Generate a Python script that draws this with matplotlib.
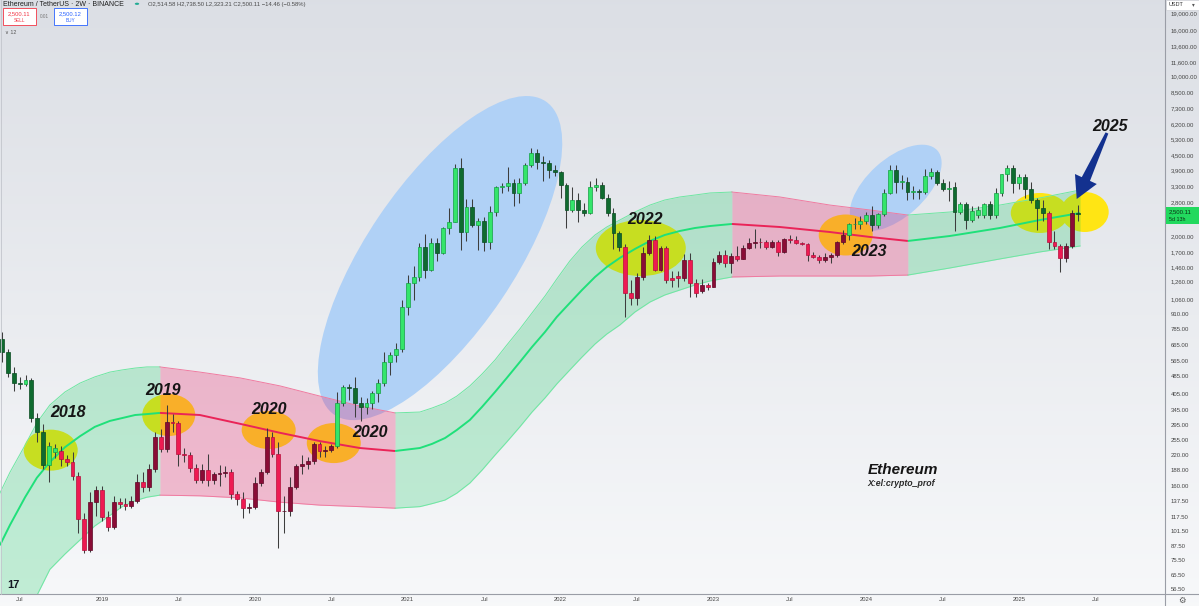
import numpy as np
import pandas as pd
import matplotlib
matplotlib.use("Agg")
import matplotlib.pyplot as plt
from matplotlib.patches import Ellipse, Rectangle, Polygon, Circle
from matplotlib.transforms import IdentityTransform
from matplotlib.lines import Line2D
from matplotlib.ticker import NullLocator

plt.rcParams["font.family"] = ["Liberation Sans", "DejaVu Sans"]

W, H = 1199, 606

# ETH/USDT 2W bars
first_bar = "2018-05-07"

opens = [
    710, 620, 500, 455, 450, 468, 318, 275, 197, 226,
    228, 210, 205, 178, 115, 84, 136, 154, 117, 106,
    136, 133, 131, 137, 167, 158, 190, 262, 232, 305,
    302, 222, 219, 193, 170, 188, 170, 180, 182, 185,
    148, 140, 128, 129, 165, 185, 262, 222, 124, 125,
    158, 195, 200, 206, 245, 228, 230, 240, 370, 435,
    432, 370, 355, 372, 410, 453, 560, 600, 640, 977,
    1244, 1320, 1790, 1418, 1866, 1680, 2168, 2302, 3986, 2080,
    2680, 2234, 2330, 1880, 2550, 3280, 3300, 3400, 3100, 3400,
    4096, 4620, 4230, 4160, 3900, 3800, 3350, 2600, 2880, 2600,
    2520, 3280, 3350, 2940, 2520, 2060, 1790, 1125, 1070, 1320,
    1680, 1920, 1420, 1770, 1310, 1340, 1310, 1570, 1250, 1150,
    1215, 1200, 1540, 1650, 1530, 1630, 1590, 1770, 1870, 1880,
    1875, 1790, 1880, 1700, 1940, 1920, 1860, 1840, 1650, 1620,
    1570, 1610, 1650, 1880, 2030, 2250, 2260, 2330, 2470, 2230,
    2500, 3090, 3900, 3450, 3460, 3130, 3140, 3110, 3650, 3800,
    3420, 3230, 3280, 2550, 2760, 2350, 2460, 2480, 2760, 2470,
    3090, 3740, 3990, 3410, 3640, 3230, 2880, 2650, 2530, 1880,
    1810, 1600, 1810, 2514.58,
]
highs = [
    760, 640, 530, 480, 490, 475, 335, 300, 250, 245,
    240, 218, 225, 185, 122, 150, 160, 160, 125, 145,
    142, 142, 145, 180, 185, 200, 275, 285, 362, 330,
    310, 235, 225, 200, 200, 222, 185, 197, 195, 190,
    152, 150, 135, 175, 190, 288, 275, 250, 145, 175,
    200, 220, 215, 250, 250, 240, 245, 415, 445, 450,
    483, 395, 390, 420, 470, 620, 620, 680, 1050, 1350,
    1470, 1870, 2040, 1950, 1950, 2200, 2650, 4150, 4380, 2900,
    2900, 2400, 2420, 2700, 3330, 3400, 4000, 3550, 3600, 4200,
    4860, 4800, 4500, 4300, 4100, 3850, 3400, 3280, 3100, 2800,
    3480, 3580, 3450, 3050, 2650, 2100, 1850, 1280, 1380, 1790,
    2030, 2000, 1800, 1800, 1400, 1400, 1660, 1680, 1290, 1300,
    1240, 1600, 1720, 1740, 1680, 1800, 1830, 1950, 2140, 1950,
    1920, 1930, 1930, 1960, 2030, 1990, 1880, 1870, 1700, 1650,
    1680, 1690, 1900, 2130, 2280, 2400, 2450, 2550, 2720, 2530,
    3200, 4090, 4100, 3700, 3620, 3300, 3200, 3950, 3980, 3900,
    3560, 3500, 3450, 2820, 2820, 2700, 2700, 2780, 2850, 3250,
    3750, 4100, 4110, 3750, 3750, 3450, 2950, 2880, 2570, 2100,
    1850, 1870, 2600, 2738.50,
]
lows = [
    560, 480, 420, 425, 440, 305, 250, 190, 167, 212,
    195, 195, 170, 100, 81, 82, 118, 112, 102, 104,
    128, 126, 128, 135, 150, 152, 185, 225, 225, 275,
    195, 205, 185, 165, 165, 160, 163, 160, 175, 140,
    132, 116, 122, 127, 160, 180, 215, 86, 100, 118,
    155, 180, 190, 200, 215, 215, 225, 235, 360, 380,
    320, 310, 330, 350, 375, 440, 490, 560, 620, 900,
    1050, 1270, 1310, 1400, 1550, 1660, 2050, 2300, 1730, 1900,
    2200, 1740, 1720, 1750, 2450, 3080, 3150, 2700, 2800, 3350,
    4000, 3950, 3500, 3600, 3650, 2950, 2160, 2550, 2300, 2450,
    2500, 3150, 2900, 2450, 1750, 1720, 880, 1000, 1000, 1280,
    1650, 1400, 1400, 1250, 1190, 1190, 1270, 1080, 1080, 1120,
    1160, 1190, 1500, 1460, 1370, 1560, 1580, 1760, 1780, 1780,
    1760, 1780, 1630, 1690, 1860, 1840, 1820, 1550, 1600, 1530,
    1540, 1520, 1620, 1850, 1930, 2150, 2150, 2250, 2100, 2170,
    2450, 3050, 3100, 3200, 2870, 2900, 2900, 3050, 3550, 3350,
    3150, 2850, 2110, 2500, 2150, 2300, 2400, 2400, 2380, 2400,
    3000, 3500, 3100, 3200, 2930, 2800, 2120, 2330, 1760, 1760,
    1390, 1540, 1770, 2323.21,
]
closes = [
    620, 500, 455, 450, 468, 318, 275, 197, 240, 236,
    210, 205, 178, 115, 84, 136, 154, 117, 106, 136,
    133, 131, 137, 167, 158, 190, 262, 232, 305, 302,
    222, 219, 193, 170, 188, 170, 180, 182, 185, 148,
    140, 128, 129, 165, 185, 262, 222, 124, 125, 158,
    195, 200, 206, 245, 228, 230, 240, 370, 435, 432,
    370, 355, 372, 410, 453, 560, 600, 640, 977, 1244,
    1320, 1790, 1418, 1866, 1680, 2168, 2302, 3986, 2080, 2680,
    2234, 2330, 1880, 2550, 3280, 3300, 3400, 3100, 3400, 4096,
    4620, 4230, 4160, 3900, 3800, 3350, 2600, 2880, 2600, 2520,
    3280, 3350, 2940, 2520, 2060, 1790, 1125, 1070, 1320, 1680,
    1920, 1420, 1770, 1282, 1280, 1310, 1570, 1250, 1130, 1215,
    1200, 1540, 1650, 1530, 1630, 1590, 1770, 1870, 1880, 1875,
    1790, 1880, 1700, 1940, 1920, 1860, 1840, 1650, 1620, 1570,
    1610, 1650, 1880, 2030, 2250, 2260, 2330, 2470, 2230, 2500,
    3090, 3900, 3450, 3460, 3130, 3140, 3110, 3650, 3800, 3420,
    3230, 3250, 2550, 2760, 2350, 2570, 2600, 2760, 2470, 3090,
    3740, 3990, 3410, 3640, 3230, 2880, 2650, 2530, 1880, 1810,
    1600, 1810, 2514.58, 2500.11,
]
# trend colouring of the bars (g = green set, r = red set), as runs
regime_runs = [(10, "g"), (47, "r"), (49, "g"), (38, "r"), (34, "g"), (5, "r"), (1, "g")]

# regression band: basis / upper / lower
band_dates = ["2018-05-02", "2018-05-26", "2018-07-01", "2018-07-29", "2018-08-29",
              "2018-10-04", "2018-11-09", "2018-12-14", "2019-01-19", "2019-02-17",
              "2019-03-20", "2019-04-17", "2019-05-18", "2019-08-21", "2019-11-25",
              "2020-02-28", "2020-06-02", "2020-09-05", "2020-11-28", "2021-01-26",
              "2021-02-24", "2021-03-27", "2021-04-24", "2021-05-25", "2021-06-23",
              "2021-07-24", "2021-08-21", "2021-09-21", "2021-10-20", "2021-11-20",
              "2021-12-18", "2022-01-18", "2022-02-16", "2022-03-19", "2022-04-16",
              "2022-05-17", "2022-06-22", "2022-07-28", "2022-09-01", "2022-10-07",
              "2022-11-12", "2022-12-18", "2023-02-08", "2023-06-02", "2023-09-29",
              "2024-01-03", "2024-04-02", "2024-07-11", "2024-11-07", "2025-02-10",
              "2025-05-17"]
band_mid = [88, 108, 143, 174, 204, 237, 265, 291, 309, 318,
            328, 331, 335, 328, 300, 274, 252, 235, 228, 235,
            245, 260, 282, 312, 356, 414, 477, 560, 652, 759,
            883, 1017, 1159, 1322, 1462, 1602, 1754, 1902, 2020, 2104,
            2168, 2212, 2258, 2190, 2082, 1980, 1902, 2000, 2168, 2350,
            2523]
band_up = [149, 184, 242, 303, 363, 414, 453, 482, 506, 517,
           527, 533, 533, 506, 477, 440, 397, 359, 335, 338,
           352, 370, 397, 440, 496, 572, 665, 782, 919, 1091,
           1295, 1554, 1790, 2020, 2190, 2350, 2548, 2734, 2876, 2966,
           3025, 3089, 3118, 2966, 2734, 2600, 2471, 2548, 2734, 2936,
           3182]
band_lo = [27.6, 33.8, 43.5, 53, 69, 80.6, 93, 107, 119, 130,
           138, 143, 146, 145, 142, 136, 132, 130, 128, 130,
           134, 139, 149, 165, 188, 219, 250, 291, 338, 390,
           449, 517, 589, 672, 743, 814, 928, 1027, 1102, 1159,
           1219, 1270, 1322, 1335, 1335, 1335, 1348, 1448, 1586, 1702,
           1808]
zone_edges = ["2019-05-18", "2020-11-28", "2023-02-08", "2024-04-02"]

price_ticks = [19000, 16000, 13600, 11600, 10000, 8500, 7300, 6200, 5300, 4500, 3900,
               3300, 2800, 2000, 1700, 1460, 1260, 1060, 910, 785, 665, 565, 485, 405,
               345, 295, 255, 220, 188, 160, 137.5, 117.5, 101.5, 87.5, 75.5, 65.5, 56.5]
time_labels = ["2018-07-01", "2019-01-01", "2019-07-01", "2020-01-01", "2020-07-01",
               "2021-01-01", "2021-07-01", "2022-01-01", "2022-07-01", "2023-01-01",
               "2023-07-01", "2024-01-01", "2024-07-01", "2025-01-01", "2025-07-01"]

yellow = "#ffe514"
blue = "#b0d1f6"
# (date, price, width px, height px, angle, colour)
highlights = [
    ("2021-03-15", 1600, 378, 148, 56, blue),
    ("2024-03-04", 3250, 112, 58, 42, blue),
    ("2018-08-31", 230, 54, 41, 0, yellow),
    ("2019-06-08", 328, 53, 42, 0, yellow),
    ("2020-02-01", 282, 54, 38, 0, yellow),
    ("2020-07-05", 247, 54, 40, 0, yellow),
    ("2022-07-06", 1771, 90, 56, 0, yellow),
    ("2023-11-06", 2020, 54, 41, 0, yellow),
    ("2025-02-10", 2523, 58, 40, 0, yellow),
    ("2025-05-28", 2548, 48, 40, 0, yellow),
]
year_notes = [("2018", "2018-10-11", 335), ("2019", "2019-05-25", 418),
              ("2020", "2020-02-01", 348), ("2020", "2020-09-29", 274),
              ("2022", "2022-07-16", 2354), ("2023", "2023-12-31", 1702),
              ("2025", "2025-07-27", 6072)]
arrow_tail = ("2025-07-20", 5660)
arrow_tip = ("2025-05-09", 2905)

assert len(opens) == len(highs) == len(lows) == len(closes) == 184
assert len(band_dates) == len(band_mid) == len(band_up) == len(band_lo)

dates = pd.date_range(first_bar, periods=len(closes), freq="14D")
t0 = dates[0]


def bar_pos(d):
    return (pd.Timestamp(d) - t0).days / 14.0


def fx(x):
    return x / W


def fy(y):
    return 1 - y / H


fig = plt.figure(figsize=(W / 100, H / 100), dpi=100)

# background gradient
top = np.array([0.862, 0.874, 0.898])
bot = np.array([0.969, 0.973, 0.980])
t = np.linspace(0, 1, 256)[:, None]
grad = top + (bot - top) * t
bg = fig.add_axes([0, 0, 1, 1], zorder=-5)
bg.imshow(grad[:, None, :], aspect="auto", extent=(0, 1, 0, 1), origin="upper")
bg.axis("off")

ax = fig.add_axes([0, 12 / H, 1165 / W, 594 / H], facecolor="none")
ax.set_yscale("log")
ax.set_xlim(-0.34, 197.8)
ax.set_ylim(53.8, 21680)
ax.set_autoscale_on(False)

# highlight blobs (under the band so the band tints them)
for d, p, w, h, ang, col in highlights:
    cx, cy = ax.transData.transform((bar_pos(d), p))
    ax.add_patch(Ellipse((cx, cy), w, h, angle=ang, facecolor=col, edgecolor="none",
                         transform=IdentityTransform(), zorder=1))

# band
kx = np.array([bar_pos(d) for d in band_dates])
bm, bu, bl = np.array(band_mid), np.array(band_up), np.array(band_lo)
edges = [kx[0]] + [bar_pos(d) for d in zone_edges] + [kx[-1]]
for j in range(len(edges) - 1):
    m = (kx >= edges[j] - 1e-6) & (kx <= edges[j + 1] + 1e-6)
    if j % 2 == 0:
        fc, fa, ec, mc = "#00c853", 0.22, "#6ee6a2", "#1fe07a"
    else:
        fc, fa, ec, mc = "#e91e63", 0.27, "#f07aa0", "#ea2458"
    ax.fill_between(kx[m], bl[m], bu[m], color=fc, alpha=fa, lw=0, zorder=2)
    ax.plot(kx[m], bu[m], color=ec, lw=0.7, zorder=3)
    ax.plot(kx[m], bl[m], color=ec, lw=0.7, zorder=3)
    ax.plot(kx[m], bm[m], color=mc, lw=1.4, zorder=3, solid_capstyle="butt")

# candles
x = np.arange(len(closes))
o, hi, lo, c = map(np.array, (opens, highs, lows, closes))
zone = np.concatenate([[z] * n for n, z in regime_runs])
rise = c >= o
palette = {("g", True): ("#34e56b", "#14a043"), ("g", False): ("#0f6b2f", "#0a4a21"),
           ("r", True): ("#8a0c36", "#5c0624"), ("r", False): ("#ee1a52", "#b50f3b")}
face = [palette[(z, u)][0] for z, u in zip(zone, rise)]
edge = [palette[(z, u)][1] for z, u in zip(zone, rise)]
ax.vlines(x, lo, hi, colors="#3d3d3d", lw=0.75, zorder=4)
body_lo = np.minimum(o, c)
body_h = np.maximum(np.abs(c - o), body_lo * 0.008)
ax.bar(x, body_h, bottom=body_lo, width=0.66, color=face, edgecolor=edge,
       linewidth=0.5, zorder=5)

# notes
for s, d, p in year_notes:
    ax.text(bar_pos(d), p, s, ha="center", va="center", fontsize=11.5,
            fontweight="bold", fontstyle="italic", color="#151515", zorder=7)
ax.text(bar_pos("2024-03-21"), 188, "Ethereum", ha="center", va="center",
        fontsize=11, fontweight="bold", fontstyle="italic", color="#151515", zorder=7)
ax.text(bar_pos("2024-03-16"), 165, "X:el:crypto_prof", ha="center", va="center",
        fontsize=6.3, fontweight="bold", fontstyle="italic", color="#2a2a2a", zorder=7)

# arrow
S = np.array(ax.transData.transform((bar_pos(arrow_tail[0]), arrow_tail[1])))
T = np.array(ax.transData.transform((bar_pos(arrow_tip[0]), arrow_tip[1])))
u = (T - S) / np.hypot(*(T - S))
n = np.array([-u[1], u[0]])
B = T - u * 22
pts = [S + n * 1.5, B + n * 4.5, B + n * 12, T, B - n * 12, B - n * 4.5, S - n * 1.5]
ax.add_patch(Polygon(pts, closed=True, transform=IdentityTransform(),
                     facecolor="#13318f", edgecolor="none", zorder=8))

# axes
ax.yaxis.tick_right()
ax.set_yticks(price_ticks)
ax.set_yticklabels([f"{v:,.2f}" for v in price_ticks])
ax.yaxis.set_minor_locator(NullLocator())
ax.tick_params(axis="y", length=0, pad=4, labelsize=4.3, labelcolor="#444444")

future = pd.date_range(first_bar, periods=len(closes) + 20, freq="14D")
tick_pos = [np.searchsorted(future, pd.Timestamp(d), side="right") - 1 for d in time_labels]
tick_txt = ["Jul" if pd.Timestamp(d).month == 7 else str(pd.Timestamp(d).year)
            for d in time_labels]
ax.set_xticks(tick_pos)
ax.set_xticklabels(tick_txt)
ax.xaxis.set_minor_locator(NullLocator())
ax.tick_params(axis="x", length=0, pad=2.5, labelsize=4.2, labelcolor="#444444")
for sp in ax.spines.values():
    sp.set_visible(False)

# frame lines
fig.add_artist(Line2D([fx(1165), fx(1165)], [0, 1], color="#9a9da6", lw=0.8))
fig.add_artist(Line2D([0, 1], [fy(594), fy(594)], color="#9a9da6", lw=0.8))
fig.add_artist(Line2D([fx(0.5), fx(0.5)], [fy(594), 1], color="#c2c5cc", lw=0.6))

# last price tag
_, yb = ax.transData.transform((0, closes[-1]))
yb_img = H - yb
fig.add_artist(Rectangle((fx(1166), fy(yb_img + 10)), 33 / W, 17 / H,
                         transform=fig.transFigure, facecolor="#22d95e",
                         edgecolor="none", zorder=10))
fig.text(fx(1169), fy(yb_img - 2.5), f"{closes[-1]:,.2f}", fontsize=4.3,
         color="#0b2e14", va="center", zorder=11)
fig.text(fx(1169), fy(yb_img + 5.5), "5d 13h", fontsize=3.8,
         color="#0b2e14", va="center", zorder=11)

# USDT box and settings icon
fig.add_artist(Rectangle((fx(1166), fy(10)), 33 / W, 10 / H, transform=fig.transFigure,
                         facecolor="white", edgecolor="#c8cad0", lw=0.4, zorder=10))
fig.text(fx(1169), fy(5), "USDT", fontsize=4, color="#333333", va="center", zorder=11)
fig.text(fx(1193), fy(5), "▾", fontsize=4, color="#555555", va="center", ha="center",
         family=["DejaVu Sans"], zorder=11)
fig.text(fx(1182), fy(600), "⚙", fontsize=6, color="#555555", va="center", ha="center",
         family=["DejaVu Sans"], zorder=11)

# header
fig.text(fx(3), fy(4.5), "Ethereum / TetherUS · 2W · BINANCE", fontsize=5,
         color="#1e1e1e", va="center", zorder=11)
fig.add_artist(Circle((fx(137), fy(3.8)), 2.2 / W, transform=fig.transFigure,
                      facecolor="#22ab94", edgecolor="none", zorder=11))
fig.text(fx(148), fy(4.5), "O2,514.58 H2,738.50 L2,323.21 C2,500.11 −14.46 (−0.58%)",
         fontsize=4.2, color="#4a4a4a", va="center", zorder=11)
for x0, col, val, side in [(3, "#f23645", "2,500.11", "SELL"), (54, "#2962ff", "2,500.12", "BUY")]:
    fig.add_artist(Rectangle((fx(x0), fy(25)), 33 / W, 17 / H, transform=fig.transFigure,
                             facecolor="white", edgecolor=col, lw=0.6, zorder=10))
    fig.text(fx(x0 + 16.5), fy(13.5), val, fontsize=4.2, color=col, ha="center",
             va="center", zorder=11)
    fig.text(fx(x0 + 16.5), fy(20.5), side, fontsize=3.4, color=col, ha="center",
             va="center", zorder=11)
fig.text(fx(44.5), fy(16), "0.01", fontsize=3.4, color="#777777", ha="center",
         va="center", zorder=11)
fig.text(fx(5), fy(33), "∨ 12", fontsize=3.8, color="#555555", va="center", zorder=11)

# logo
fig.text(fx(7), fy(585), "17", fontsize=8, fontweight="heavy", color="#131722",
         va="center", zorder=11)

fig.savefig("out.png", dpi=100)
